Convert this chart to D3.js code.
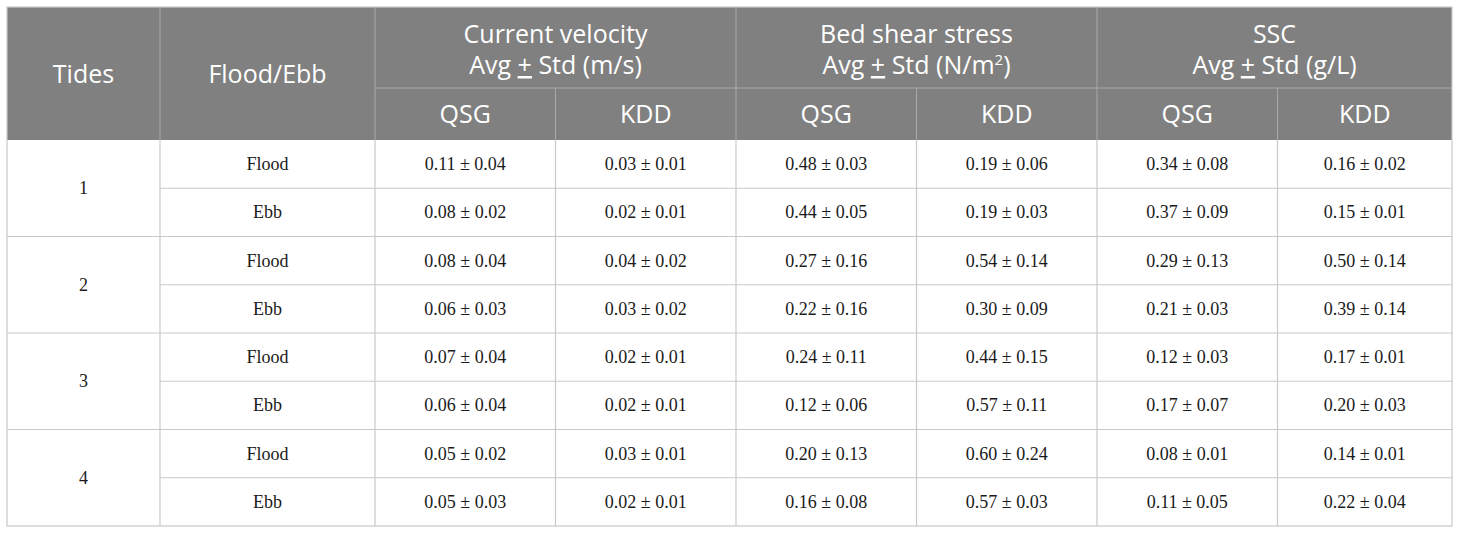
<!DOCTYPE html>
<html>
<head>
<meta charset="utf-8">
<script src="https://cdn.jsdelivr.net/npm/d3@7"></script>
<style>
  body { margin: 0; background: #fff; }
</style>
</head>
<body>
<div id="table_container"></div>
<script>
// ------ DATA ------
const tides = ["1", "2", "3", "4"]
const phases = ["Flood", "Ebb"]
const stations = ["QSG", "KDD"]
const variable_names = ["Current velocity", "Bed shear stress", "SSC"]
const variable_units = ["(m/s)", "(N/m", "(g/L)"]

// rows: tide 1 flood, tide 1 ebb, tide 2 flood, ... (avg, std)
const velocity_qsg = [[0.11, 0.04], [0.08, 0.02], [0.08, 0.04], [0.06, 0.03], [0.07, 0.04], [0.06, 0.04], [0.05, 0.02], [0.05, 0.03]]
const velocity_kdd = [[0.03, 0.01], [0.02, 0.01], [0.04, 0.02], [0.03, 0.02], [0.02, 0.01], [0.02, 0.01], [0.03, 0.01], [0.02, 0.01]]
const shear_qsg    = [[0.48, 0.03], [0.44, 0.05], [0.27, 0.16], [0.22, 0.16], [0.24, 0.11], [0.12, 0.06], [0.20, 0.13], [0.16, 0.08]]
const shear_kdd    = [[0.19, 0.06], [0.19, 0.03], [0.54, 0.14], [0.30, 0.09], [0.44, 0.15], [0.57, 0.11], [0.60, 0.24], [0.57, 0.03]]
const ssc_qsg      = [[0.34, 0.08], [0.37, 0.09], [0.29, 0.13], [0.21, 0.03], [0.12, 0.03], [0.17, 0.07], [0.08, 0.01], [0.11, 0.05]]
const ssc_kdd      = [[0.16, 0.02], [0.15, 0.01], [0.50, 0.14], [0.39, 0.14], [0.17, 0.01], [0.20, 0.03], [0.14, 0.01], [0.22, 0.04]]

const data_columns = [velocity_qsg, velocity_kdd, shear_qsg, shear_kdd, ssc_qsg, ssc_kdd]

// ------ LAYOUT ------
const width = 1460, height = 534
const t_left = 7, t_right = 1452, t_top = 7, t_bottom = 526
const tides_w = 153, phase_w = 215, data_w = 180.5
const head1 = 81, head2 = 52

const header_fill = "#808080"
const header_line = "#a9a9a9"
const body_line = "#c9c9c9"
const sans = "'Open Sans', 'Noto Sans', sans-serif"
const serif = "'Liberation Serif', 'DejaVu Serif', serif"

const svg = d3.select("div#table_container").append("svg")
  .attr("width", width)
  .attr("height", height)
  .style("display", "block")

const data_x0 = t_left + tides_w + phase_w
const x_data = d3.scaleBand()
  .domain(d3.range(data_columns.length))
  .range([data_x0, data_x0 + data_w * data_columns.length])

const x_var = d3.scaleBand()
  .domain(d3.range(variable_names.length))
  .range([data_x0, data_x0 + data_w * data_columns.length])

// centre of a band, clipped to the table's right edge (last column is a bit narrower)
function mid(scale, i) {
  const x0 = scale(i)
  const x1 = Math.min(x0 + scale.bandwidth(), t_right)
  return (x0 + x1) / 2
}

const body_top = t_top + head1 + head2
const row_keys = tides.flatMap(t => phases.map(p => t + "-" + p))
const y_row = d3.scaleBand()
  .domain(row_keys)
  .range([body_top, t_bottom])

const y_tide = d3.scaleBand()
  .domain(tides)
  .range([body_top, t_bottom])

const fmt = d3.format(".2f")

// ------ HEADER ------
svg.append("rect")
  .attr("x", t_left).attr("y", t_top)
  .attr("width", t_right - t_left).attr("height", head1 + head2)
  .attr("fill", header_fill)

const header_lines = svg.append("g")
  .attr("stroke", header_line)
  .attr("stroke-width", 1)

// vertical lines in header
const head_v = [t_left + tides_w, data_x0]
  .concat(d3.range(1, variable_names.length).map(i => x_var(i)))
head_v.forEach(function(x) {
  header_lines.append("line")
    .attr("x1", x).attr("x2", x)
    .attr("y1", t_top).attr("y2", body_top)
})
d3.range(1, data_columns.length, 2).forEach(function(i) {
  header_lines.append("line")
    .attr("x1", x_data(i)).attr("x2", x_data(i))
    .attr("y1", t_top + head1).attr("y2", body_top)
})
header_lines.append("line")
  .attr("x1", data_x0).attr("x2", t_right)
  .attr("y1", t_top + head1).attr("y2", t_top + head1)

const header_text = svg.append("g")
  .attr("fill", "#ffffff")
  .attr("font-family", sans)
  .attr("font-size", 25)
  .attr("text-anchor", "middle")

header_text.append("text")
  .attr("x", t_left + tides_w / 2)
  .attr("y", t_top + (head1 + head2) / 2 + 9)
  .text("Tides")

header_text.append("text")
  .attr("x", t_left + tides_w + phase_w / 2)
  .attr("y", t_top + (head1 + head2) / 2 + 9)
  .text("Flood/Ebb")

variable_names.forEach(function(name, i) {
  const xm = mid(x_var, i)
  header_text.append("text")
    .attr("x", xm)
    .attr("y", t_top + 36)
    .text(name)

  const t = header_text.append("text")
    .attr("x", xm)
    .attr("y", t_top + 67)
  t.append("tspan").text("Avg ")
  t.append("tspan").attr("text-decoration", "underline").text("+")
  t.append("tspan").text(" Std " + variable_units[i])
  if (i == 1) {
    t.append("tspan").attr("font-size", 15).attr("dy", -9).text("2")
    t.append("tspan").attr("dy", 9).text(")")
  }
})

d3.range(data_columns.length).forEach(function(i) {
  header_text.append("text")
    .attr("x", mid(x_data, i))
    .attr("y", t_top + head1 + head2 / 2 + 9)
    .text(stations[i % 2])
})

// ------ BODY ------
const body_lines = svg.append("g")
  .attr("stroke", body_line)
  .attr("stroke-width", 1.2)

// horizontal row lines (phase rows span from phase column, tide lines full width)
row_keys.forEach(function(k, i) {
  if (i == 0) return
  const y = y_row(k)
  const full = i % phases.length == 0
  body_lines.append("line")
    .attr("x1", full ? t_left : t_left + tides_w).attr("x2", t_right)
    .attr("y1", y).attr("y2", y)
})
// vertical column lines
const body_v = [t_left + tides_w, data_x0]
  .concat(d3.range(1, data_columns.length).map(i => x_data(i)))
body_v.forEach(function(x) {
  body_lines.append("line")
    .attr("x1", x).attr("x2", x)
    .attr("y1", body_top).attr("y2", t_bottom)
})
// outer border
body_lines.append("rect")
  .attr("x", t_left).attr("y", t_top)
  .attr("width", t_right - t_left).attr("height", t_bottom - t_top)
  .attr("fill", "none")

const body_text = svg.append("g")
  .attr("fill", "#1a1a1a")
  .attr("font-family", serif)
  .attr("font-size", 18)
  .attr("text-anchor", "middle")

body_text.selectAll("text.tide")
  .data(tides)
  .join("text")
  .attr("class", "tide")
  .attr("x", t_left + tides_w / 2)
  .attr("y", d => y_tide(d) + y_tide.bandwidth() / 2 + 6)
  .text(d => d)

body_text.selectAll("text.phase")
  .data(row_keys)
  .join("text")
  .attr("class", "phase")
  .attr("x", t_left + tides_w + phase_w / 2)
  .attr("y", d => y_row(d) + y_row.bandwidth() / 2 + 6)
  .text(d => d.split("-")[1])

data_columns.forEach(function(col, ci) {
  body_text.selectAll("text.c" + ci)
    .data(col)
    .join("text")
    .attr("class", "c" + ci)
    .attr("x", mid(x_data, ci))
    .attr("y", (d, ri) => y_row(row_keys[ri]) + y_row.bandwidth() / 2 + 6)
    .text(d => fmt(d[0]) + " \u00b1 " + fmt(d[1]))
})
</script>
</body>
</html>
